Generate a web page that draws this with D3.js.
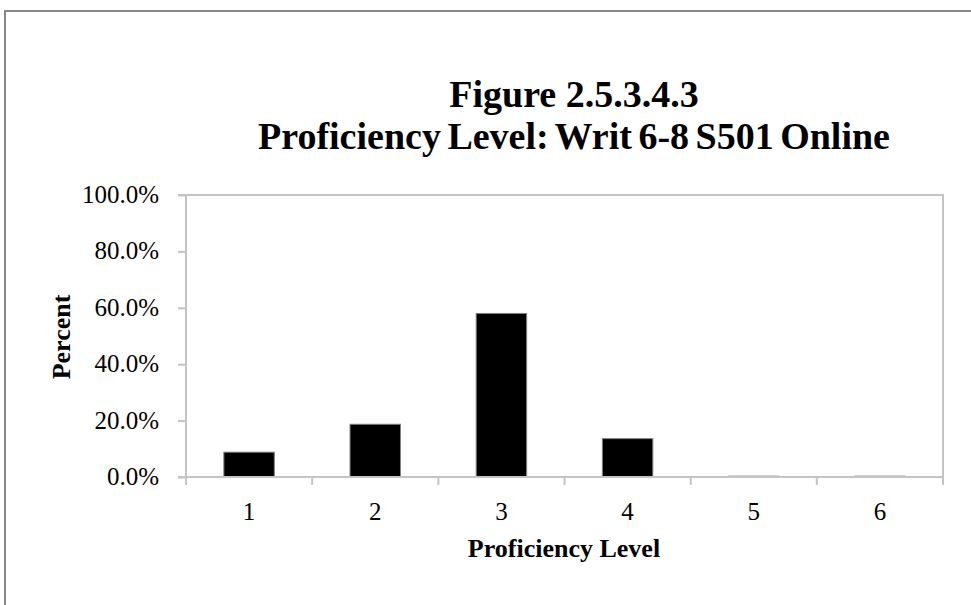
<!DOCTYPE html>
<html><head><meta charset="utf-8">
<script src="https://cdn.jsdelivr.net/npm/d3@7"></script>
<style>body{margin:0;background:#fff}svg{display:block}</style>
</head><body>
<script>
const categories = ["1","2","3","4","5","6"];
const values = [8.8, 18.7, 58.0, 13.6, 0.3, 0.3];
const yTicks = [0, 20, 40, 60, 80, 100];
const titleLines = ["Figure 2.5.3.4.3", "Proficiency Level: Writ 6-8 S501 Online"];
const xTitle = "Proficiency Level";
const yTitle = "Percent";

const W = 971, H = 605;
const svg = d3.select("body").append("svg").attr("width", W).attr("height", H);
const font = "'Liberation Serif','Times New Roman',serif";

// outer frame
svg.append("rect").attr("x", 5).attr("y", 11).attr("width", W + 10).attr("height", H + 10)
  .attr("fill", "none").attr("stroke", "#878787").attr("stroke-width", 2);

const m = {left: 186, right: 943, top: 195, bottom: 477};
const x = d3.scaleBand().domain(categories).range([m.left, m.right]).paddingInner(0.6).paddingOuter(0.3);
const xb = d3.scaleBand().domain(categories).range([m.left, m.right]);
const y = d3.scaleLinear().domain([0, 100]).range([m.bottom, m.top]);

// plot border top/right
svg.append("path").attr("d", `M${m.left},${m.top}H${m.right}V${m.bottom}`)
  .attr("fill", "none").attr("stroke", "#c4c4c4").attr("stroke-width", 2);

// bars
svg.selectAll("rect.bar").data(values).join("rect").attr("class", "bar")
  .attr("x", (d, i) => x(categories[i])).attr("width", x.bandwidth())
  .attr("y", d => y(d)).attr("height", d => y(0) - y(d))
  .attr("fill", "#000").attr("stroke", "#808080").attr("stroke-width", 1);

// y axis
const yAxis = svg.append("g").attr("transform", `translate(${m.left},0)`)
  .call(d3.axisLeft(y).tickValues(yTicks).tickSize(8).tickPadding(19).tickFormat(d => d.toFixed(1) + "%"));
yAxis.selectAll("line,path").attr("stroke", "#c4c4c4").attr("stroke-width", 2);
yAxis.select(".domain").attr("d", `M-8,${m.top}H0V${m.bottom}H-8`);
yAxis.selectAll("text").attr("font-family", font).attr("font-size", 25).attr("fill", "#000").attr("dy", "0.3em");

// x axis
const xAxis = svg.append("g").attr("transform", `translate(0,${m.bottom})`)
  .call(d3.axisBottom(xb).tickSize(0));
xAxis.select(".domain").attr("d", `M${m.left},0H${m.right}`).attr("stroke", "#c4c4c4").attr("stroke-width", 2);
xAxis.selectAll("text").attr("font-family", font).attr("font-size", 25).attr("fill", "#000")
  .attr("y", 43).attr("dy", 0);
xAxis.selectAll("line.bnd").data(d3.range(categories.length + 1)).join("line").attr("class", "bnd")
  .attr("x1", i => m.left + i * xb.step()).attr("x2", i => m.left + i * xb.step())
  .attr("y1", 0).attr("y2", 8).attr("stroke", "#c4c4c4").attr("stroke-width", 2);

// titles
svg.append("text").attr("x", 574).attr("y", 107).attr("text-anchor", "middle")
  .attr("font-family", font).attr("font-weight", "bold").attr("font-size", 38).text(titleLines[0]);
svg.append("text").attr("x", 574).attr("y", 149).attr("text-anchor", "middle")
  .attr("font-family", font).attr("font-weight", "bold").attr("font-size", 38)
  .attr("word-spacing", -3).text(titleLines[1]);

svg.append("text").attr("x", 564).attr("y", 557).attr("text-anchor", "middle")
  .attr("font-family", font).attr("font-weight", "bold").attr("font-size", 26).text(xTitle);
svg.append("text").attr("transform", "translate(70,337) rotate(-90)").attr("text-anchor", "middle")
  .attr("font-family", font).attr("font-weight", "bold").attr("font-size", 26).text(yTitle);
</script>
</body></html>
